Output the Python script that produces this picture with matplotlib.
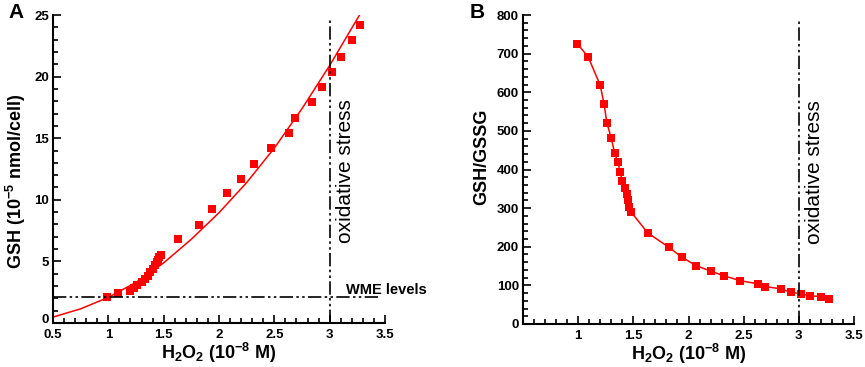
import matplotlib
import matplotlib.pyplot as plt
import matplotlib.transforms as mtransforms
from matplotlib.ticker import MultipleLocator

matplotlib.use("Agg")

plt.rcParams["font.family"] = ["Liberation Sans", "DejaVu Sans"]
plt.rcParams["mathtext.fontset"] = "custom"
plt.rcParams["mathtext.rm"] = "Liberation Sans:bold"
plt.rcParams["mathtext.it"] = "Liberation Sans:bold"
plt.rcParams["mathtext.bf"] = "Liberation Sans:bold"

# ---------------------------------------------------------------------------
# Data
# ---------------------------------------------------------------------------

h2o2 = [0.99, 1.09, 1.20, 1.235, 1.26, 1.30, 1.33, 1.36, 1.38, 1.40, 1.42,
        1.44, 1.45, 1.46, 1.48, 1.63, 1.82, 1.94, 2.07, 2.20, 2.32, 2.47,
        2.63, 2.69, 2.84, 2.93, 3.02, 3.10, 3.20, 3.27]

gsh = [2.1, 2.43, 2.62, 2.85, 3.05, 3.3, 3.6, 3.85, 4.1, 4.4, 4.7,
       4.95, 5.15, 5.35, 5.55, 6.81, 7.97, 9.22, 10.54, 11.68, 12.92, 14.19,
       15.43, 16.68, 17.92, 19.14, 20.38, 21.62, 22.97, 24.19]

ratio = [726, 692, 618, 569, 521, 481, 443, 419, 394, 370, 352,
         336, 321, 304, 290, 236, 199, 173, 151, 137, 125, 112,
         104, 97, 91, 82, 78, 73, 71, 66]

# fitted curve of panel A
fit_x = [0.5, 0.75, 1.0, 1.25, 1.5, 1.75, 2.0, 2.25, 2.5, 2.75, 3.0, 3.27]
fit_y = [0.48, 1.15, 2.08, 3.3, 4.88, 6.8, 8.95, 11.4, 14.2, 17.4, 20.9, 25.0]

WME_LEVEL = 2.1
STRESS_X = 3.0

RED = "#ff0000"
DASHDOTDOT = (0, (8, 2, 1.5, 2, 1.5, 2))


def style_axes(ax):
    for side in ("top", "right"):
        ax.spines[side].set_visible(False)
    for side in ("left", "bottom"):
        ax.spines[side].set_linewidth(1.5)
    ax.tick_params(which="both", direction="in", width=1.2, labelsize=9.5,
                   pad=3)
    ax.tick_params(axis="x", which="both", pad=4)
    ax.tick_params(which="major", length=6)
    ax.tick_params(which="minor", length=3.5)
    ax.xaxis.set_minor_locator(MultipleLocator(0.1))
    for lab in ax.get_xticklabels() + ax.get_yticklabels():
        lab.set_fontweight("bold")


fig = plt.figure(figsize=(8.65, 3.67), dpi=100)
W, H = 865, 367

# ---------------------------------------------------------------------------
# Panel A
# ---------------------------------------------------------------------------
ax1 = fig.add_axes([53 / W, 1 - 323 / H, (385 - 53) / W, (323 - 15) / H])
ax1.plot(fit_x, fit_y, color=RED, lw=1.1)
ax1.plot(h2o2, gsh, "s", color=RED, ms=5.8, mew=0)
ax1.plot([0.5, 3.45], [WME_LEVEL, WME_LEVEL], color="black", lw=1.2,
         linestyle=DASHDOTDOT)
ax1.plot([STRESS_X, STRESS_X], [0, 24.7], color="black", lw=1.2,
         linestyle=DASHDOTDOT)
ax1.text(3.15, 2.7, "WME levels", fontsize=10.5, fontweight="bold",
         ha="left", va="center")
ax1.text(3.14, 12.3, "oxidative stress", fontsize=15, rotation=90,
         ha="center", va="center")
ax1.set_xlim(0.5, 3.5)
ax1.set_ylim(0, 25)
ax1.set_xticks([0.5, 1, 1.5, 2, 2.5, 3, 3.5])
ax1.set_xticklabels(["0.5", "1", "1.5", "2", "2.5", "3", "3.5"])
ax1.set_yticks([0, 5, 10, 15, 20, 25])
ax1.yaxis.set_minor_locator(MultipleLocator(1))
ax1.set_xlabel(r"H$_2$O$_2$ (10$^{-8}$ M)", fontsize=13, fontweight="bold",
               labelpad=0)
ax1.set_ylabel(r"GSH (10$^{-5}$ nmol/cell)", fontsize=13, fontweight="bold")
ax1.yaxis.set_label_coords(-0.075, 0.46)
style_axes(ax1)
# lift the "0" tick label a touch so it clears "0.5"
zero_lab = ax1.get_yticklabels()[0]
zero_lab.set_transform(zero_lab.get_transform() + mtransforms.ScaledTranslation(
    0, 3 / 72, fig.dpi_scale_trans))
fig.text(8 / W, 1 - 12 / H, "A", fontsize=15, fontweight="bold",
         ha="left", va="center")

# ---------------------------------------------------------------------------
# Panel B
# ---------------------------------------------------------------------------
ax2 = fig.add_axes([523 / W, 1 - 324 / H, (854 - 523) / W, (324 - 15) / H])
ax2.plot(h2o2, ratio, "-s", color=RED, lw=1.1, ms=5.8, mew=0)
ax2.plot([STRESS_X, STRESS_X], [0, 790], color="black", lw=1.2,
         linestyle=DASHDOTDOT)
ax2.text(3.14, 394, "oxidative stress", fontsize=15, rotation=90,
         ha="center", va="center")
ax2.set_xlim(0.5, 3.5)
ax2.set_ylim(0, 800)
ax2.set_xticks([1, 1.5, 2, 2.5, 3, 3.5])
ax2.set_xticklabels(["1", "1.5", "2", "2.5", "3", "3.5"])
ax2.set_yticks(range(0, 801, 100))
ax2.yaxis.set_minor_locator(MultipleLocator(20))
ax2.set_xlabel(r"H$_2$O$_2$ (10$^{-8}$ M)", fontsize=13, fontweight="bold",
               labelpad=0)
ax2.set_ylabel("GSH/GSSG", fontsize=13, fontweight="bold")
ax2.yaxis.set_label_coords(-0.10, 0.54)
style_axes(ax2)
fig.text(470 / W, 1 - 12 / H, "B", fontsize=15, fontweight="bold",
         ha="left", va="center")

fig.savefig("out.png", dpi=100)
plt.close(fig)
